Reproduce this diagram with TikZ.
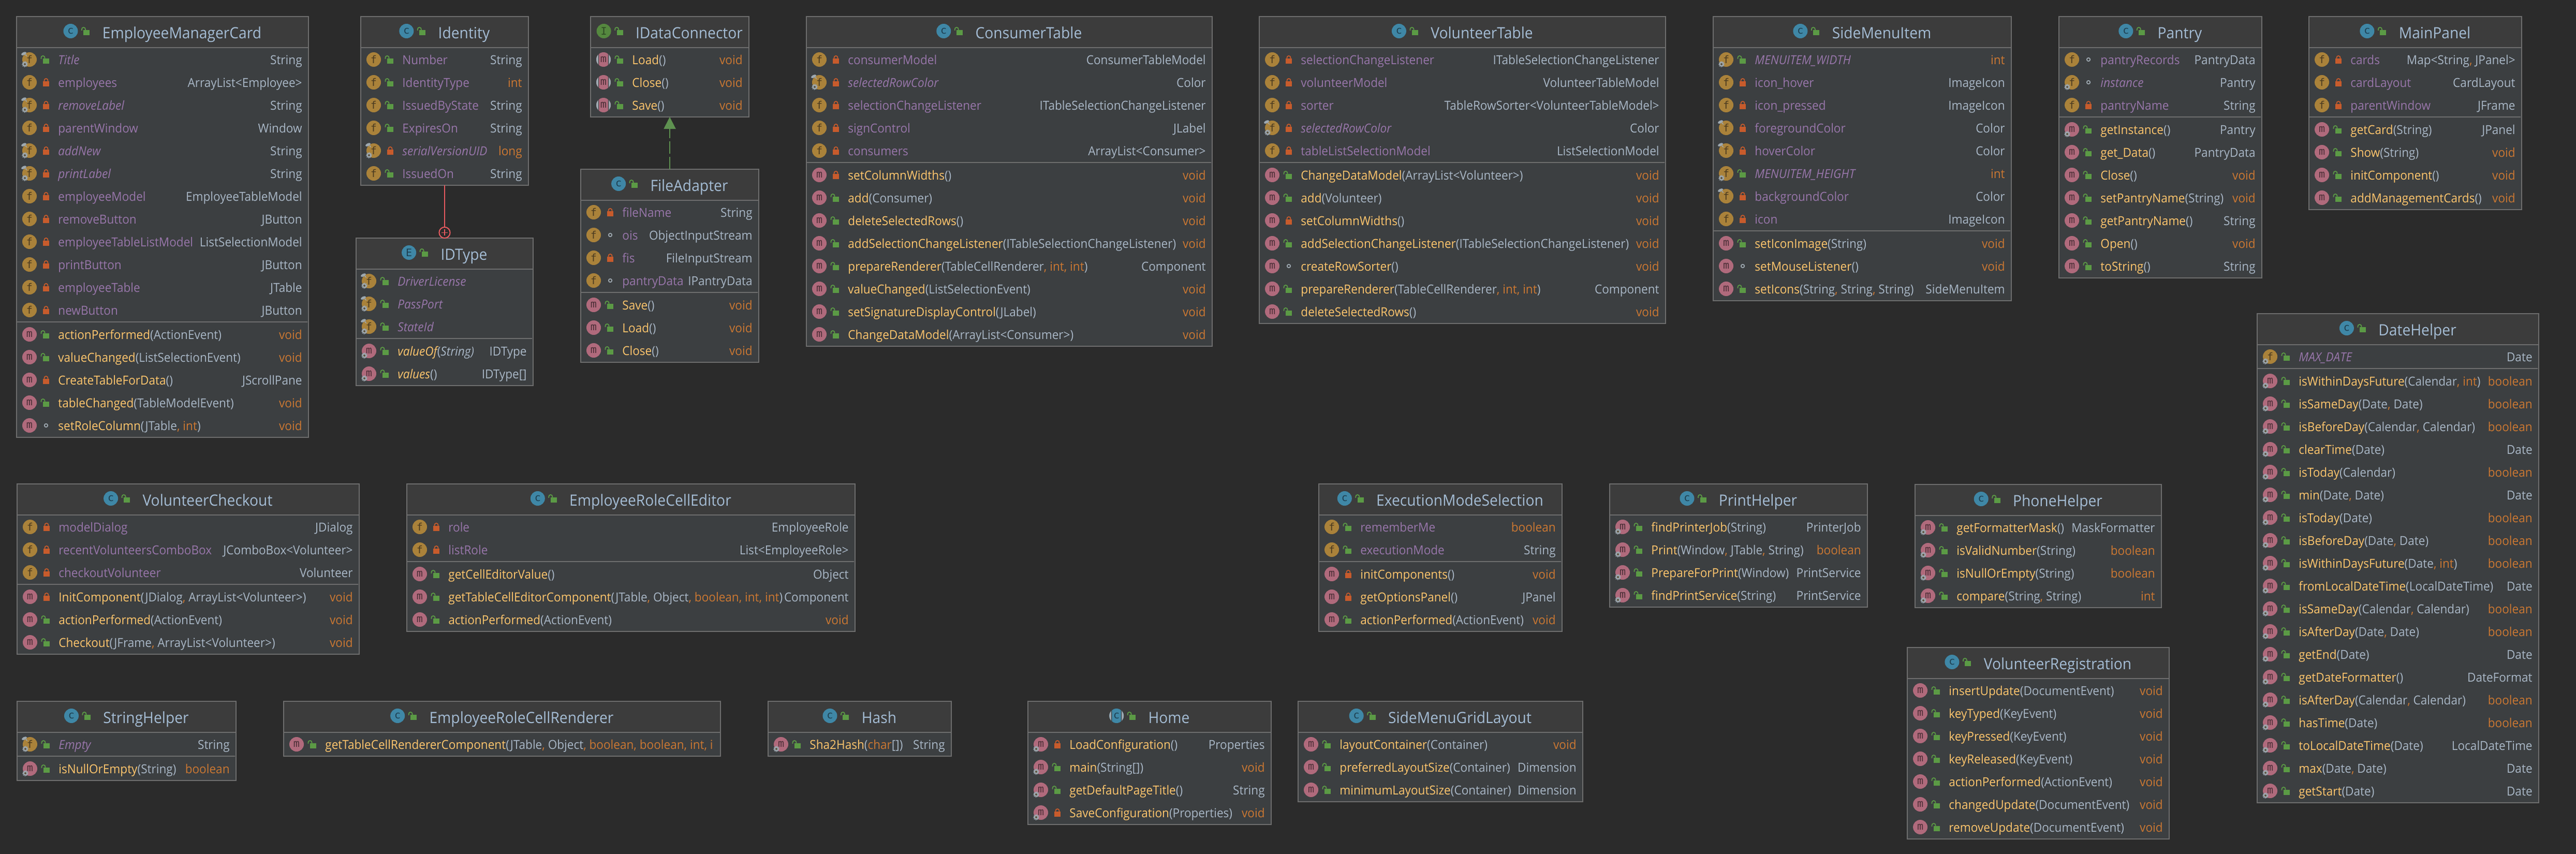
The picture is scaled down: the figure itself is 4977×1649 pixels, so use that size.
\documentclass[tikz,border=0pt]{standalone}
\usepackage{fontspec}
\usepackage{tikz}
\usetikzlibrary{arrows.meta,positioning}
\setmainfont{Open Sans}[FakeStretch=0.94]
\newfontfamily\iconfont{DejaVu Sans Mono}

\definecolor{canvasbg}{HTML}{2B2B2B}
\definecolor{headbg}{HTML}{3C3C3C}
\definecolor{rowbg}{HTML}{3C3F41}
\definecolor{rulegrey}{HTML}{6E6E6E}
\definecolor{fieldpurple}{HTML}{9876AA}
\definecolor{methodyellow}{HTML}{FFC66D}
\definecolor{typeblue}{HTML}{A9B7C6}
\definecolor{titleblue}{HTML}{A4BCD4}
\definecolor{keyorange}{HTML}{CC7832}
\definecolor{pubgreen}{HTML}{5B9A45}
\definecolor{prired}{HTML}{C75B2C}
\definecolor{markgrey}{HTML}{9DA8B0}
\definecolor{innerred}{HTML}{E85A5F}
\definecolor{implgreen}{HTML}{5E9150}
\definecolor{iconf}{HTML}{AA823A}
\definecolor{iconfink}{HTML}{4A3A20}
\definecolor{iconm}{HTML}{B06A7C}
\definecolor{iconmink}{HTML}{4A2E36}
\definecolor{iconc}{HTML}{3F87A6}
\definecolor{iconcink}{HTML}{1E3F50}
\definecolor{iconi}{HTML}{55883F}
\definecolor{iconiink}{HTML}{2E4A24}

\tikzset{
  iconnode/.style={circle, inner sep=0pt, outer sep=0pt, minimum size=14pt, font=\iconfont\fontsize{10}{12}\selectfont},
  kindf/.style={fill=iconf, text=iconfink},
  kindm/.style={fill=iconm, text=iconmink},
  kindc/.style={fill=iconc, text=iconcink},
  kindE/.style={kindc},
  kindI/.style={fill=iconi, text=iconiink},
  classnode/.style={draw=rulegrey, line width=1pt, fill=rowbg, inner sep=0pt, outer sep=0pt},
  titletext/.style={inner sep=0pt, text=titleblue, anchor=base, font=\fontsize{15}{18}\selectfont},
  nametext/.style={inner sep=0pt, fill=rowbg, text=typeblue, anchor=base west, font=\fontsize{12}{14}\selectfont},
  typetext/.style={inner sep=0pt, text=typeblue, anchor=base east, font=\fontsize{12}{14}\selectfont},
  plusmark/.style={circle, draw=innerred, line width=1pt, inner sep=0pt, minimum size=10.6pt, outer sep=0pt,
    path picture={\draw[innerred, line width=0.8pt] (-3pt,0pt) -- (3pt,0pt) (0pt,-3pt) -- (0pt,3pt);}},
  innerline/.style={draw=innerred, line width=1pt},
  implline/.style={draw=implgreen, line width=1pt, dash pattern=on 12pt off 3pt, -{Triangle[length=11.5pt,width=11.5pt,fill=implgreen]}},
  lockpri/.pic={
    \fill[prired] (-3pt,-4pt) rectangle (3pt,0.8pt);
    \draw[prired, line width=0.9pt] (-1.75pt,0.8pt) -- (-1.75pt,1.8pt) arc (180:0:1.75pt) -- (1.75pt,0.8pt);
  },
  lockpub/.pic={
    \fill[pubgreen] (-3pt,-4pt) rectangle (3pt,0.8pt);
    \draw[pubgreen, line width=0.9pt] (-4.75pt,0.6pt) -- (-4.75pt,1.8pt) arc (180:0:1.75pt) -- (-1.25pt,0.8pt);
  },
  lockpkg/.pic={
    \draw[markgrey, line width=0.9pt] (0pt,0pt) circle (1.6pt);
  },
  decn/.pic={},
  decg/.pic={
    \fill[markgrey] (-4.5pt,-4.5pt) circle (2.3pt);
    \draw[markgrey, line width=0.7pt, dash pattern=on 0.8pt off 0.8pt] (-4.5pt,-4.5pt) circle (2.6pt);
    \fill[rowbg!70!iconf] (-4.5pt,-4.5pt) circle (1pt);
  },
  decp/.pic={
    \fill[markgrey, rotate around={25:(-5.5pt,5.7pt)}] (-5.5pt,5.7pt) ellipse (2.7pt and 1.4pt);
    \fill[markgrey] (-4.3pt,4.4pt) -- (-2.4pt,2.8pt) -- (-3.2pt,5pt) -- cycle;
  },
  decb/.pic={
    \pic {decg}; \pic {decp};
  },
  deca/.pic={
    \begin{scope}
      \clip (-7pt,-7pt) rectangle (-5pt,7pt) (5pt,-7pt) rectangle (7pt,7pt);
      \fill[markgrey] (0pt,0pt) circle (7pt);
    \end{scope}
    \fill[rowbg] (-5pt,-7pt) rectangle (-4.4pt,7pt) (4.4pt,-7pt) rectangle (5pt,7pt);
  },
}

% Running position of the rows inside a class box
\newcount\curL
\newcount\curR
\newcount\rowY
\newcount\rowno
\newcommand{\kw}[1]{\textcolor{keyorange}{#1}}
\newcommand{\vd}{\kw{void}}
\newcommand{\cma}{\kw{,}\space}

% Box with header, left open for the rows: [mark]{name}{left}{top}{right}{bottom}{kind}{title}
\newcommand{\classbox}[8][n]{%
  \gdef\boxid{#2}\global\curL=#3\relax\global\curR=#5\relax\global\rowY=\numexpr#4+83\relax\global\rowno=1\relax
  \node[classnode, anchor=north west, minimum width={(#5-#3)*0.5pt}, minimum height={(#6-#4)*0.5pt}] (#2) at (#3,#4) {};
  \fill[headbg] (#3+1,#4+1) rectangle (#5-1,#4+60);
  \draw[rulegrey, line width=1pt] (#3,#4+60) -- (#5,#4+60);
  \node[titletext] (#2-title) at ({(#3+#5)/2+37.5},#4+42) {#8};
  \node[iconnode, kind#7] (#2-icon) at ([xshift=-30.5pt,yshift=7pt]#2-title.base west) {#7};
  \pic at (#2-icon.center) {dec#1};
  \pic at ([xshift=15.5pt]#2-icon.center) {lockpub};
  \begin{scope}
  \clip (#3,#4) rectangle (#5-2,#6);
}
\newcommand{\classend}{\end{scope}}
\newcommand{\classsep}{%
  \draw[rulegrey, line width=1pt] (\the\curL,\the\rowY-21) -- (\the\curR,\the\rowY-21);
  \global\advance\rowY by 3\relax
}
\newcommand{\rowcore}[5]{%
  \node[iconnode, kind#2] (\boxid-i\the\rowno) at (\the\curL+25,\the\rowY) {#2};
  \pic at (\boxid-i\the\rowno.center) {dec#1};
  \pic at (\the\curL+57,\the\rowY) {lock#3};
  \node[typetext] (\boxid-t\the\rowno) at (\the\curR-12,\the\rowY+9) {#5};
  \node[nametext] (\boxid-n\the\rowno) at (\the\curL+80,\the\rowY+9) {#4};
  \global\advance\rowY by 44\relax
  \global\advance\rowno by 1\relax
}
% [mark]{access}{name}{type}
\newcommand{\frow}[4][n]{\rowcore{#1}{f}{#2}{\textcolor{fieldpurple}{#3}}{#4}}
% [mark]{access}{name}{params}{type}
\newcommand{\mrow}[5][n]{\rowcore{#1}{m}{#2}{\textcolor{methodyellow}{#3}(#4)}{#5}}

\begin{document}
\begin{tikzpicture}[x=0.5pt,y=-0.5pt]
\useasboundingbox (0,0) rectangle (4977,1649);
\fill[canvasbg] (-20,-20) rectangle (4997,1669);

% Employee manager card
\classbox{employeeCard}{32}{32}{596}{845}{c}{EmployeeManagerCard}
\frow[b]{pub}{\itshape Title}{String}
\frow{pri}{employees}{ArrayList<Employee>}
\frow[b]{pri}{\itshape removeLabel}{String}
\frow{pri}{parentWindow}{Window}
\frow[b]{pri}{\itshape addNew}{String}
\frow[b]{pri}{\itshape printLabel}{String}
\frow{pri}{employeeModel}{EmployeeTableModel}
\frow{pri}{removeButton}{JButton}
\frow{pri}{employeeTableListModel}{ListSelectionModel}
\frow{pri}{printButton}{JButton}
\frow{pri}{employeeTable}{JTable}
\frow{pri}{newButton}{JButton}
\classsep
\mrow{pub}{actionPerformed}{ActionEvent}{\vd}
\mrow{pub}{valueChanged}{ListSelectionEvent}{\vd}
\mrow{pri}{CreateTableForData}{}{JScrollPane}
\mrow{pub}{tableChanged}{TableModelEvent}{\vd}
\mrow{pkg}{setRoleColumn}{JTable\cma\kw{int}}{\vd}
\classend

% Identity and its nested enum
\classbox{identity}{697}{32}{1021}{358}{c}{Identity}
\frow{pub}{Number}{String}
\frow{pub}{IdentityType}{\kw{int}}
\frow{pub}{IssuedByState}{String}
\frow{pub}{ExpiresOn}{String}
\frow[b]{pri}{\itshape serialVersionUID}{\kw{long}}
\frow{pub}{IssuedOn}{String}
\classend

\classbox{idType}{688}{460}{1030}{745}{E}{IDType}
\frow[b]{pub}{\itshape DriverLicense}{}
\frow[b]{pub}{\itshape PassPort}{}
\frow[b]{pub}{\itshape StateId}{}
\classsep
\mrow[g]{pub}{\itshape valueOf}{\itshape String}{IDType}
\mrow[g]{pub}{\itshape values}{}{IDType[]}
\classend

% Data connector and adapter
\classbox{dataConnector}{1141}{32}{1447}{226}{I}{IDataConnector}
\mrow[a]{pub}{Load}{}{\vd}
\mrow[a]{pub}{Close}{}{\vd}
\mrow[a]{pub}{Save}{}{\vd}
\classend

\classbox{fileAdapter}{1122}{327}{1466}{700}{c}{FileAdapter}
\frow{pri}{fileName}{String}
\frow{pkg}{ois}{ObjectInputStream}
\frow{pri}{fis}{FileInputStream}
\frow{pkg}{pantryData}{IPantryData}
\classsep
\mrow{pub}{Save}{}{\vd}
\mrow{pub}{Load}{}{\vd}
\mrow{pub}{Close}{}{\vd}
\classend

% Consumer table
\classbox{consumerTable}{1558}{32}{2342}{669}{c}{ConsumerTable}
\frow{pri}{consumerModel}{ConsumerTableModel}
\frow[b]{pri}{\itshape selectedRowColor}{Color}
\frow{pri}{selectionChangeListener}{ITableSelectionChangeListener}
\frow{pri}{signControl}{JLabel}
\frow{pri}{consumers}{ArrayList<Consumer>}
\classsep
\mrow{pri}{setColumnWidths}{}{\vd}
\mrow{pub}{add}{Consumer}{\vd}
\mrow{pub}{deleteSelectedRows}{}{\vd}
\mrow{pub}{addSelectionChangeListener}{ITableSelectionChangeListener}{\vd}
\mrow{pub}{prepareRenderer}{TableCellRenderer\cma\kw{int}\cma\kw{int}}{Component}
\mrow{pub}{valueChanged}{ListSelectionEvent}{\vd}
\mrow{pub}{setSignatureDisplayControl}{JLabel}{\vd}
\mrow{pub}{ChangeDataModel}{ArrayList<Consumer>}{\vd}
\classend

% Volunteer table
\classbox{volunteerTable}{2433}{32}{3218}{625}{c}{VolunteerTable}
\frow{pri}{selectionChangeListener}{ITableSelectionChangeListener}
\frow{pri}{volunteerModel}{VolunteerTableModel}
\frow{pri}{sorter}{TableRowSorter<VolunteerTableModel>}
\frow[b]{pri}{\itshape selectedRowColor}{Color}
\frow{pri}{tableListSelectionModel}{ListSelectionModel}
\classsep
\mrow{pub}{ChangeDataModel}{ArrayList<Volunteer>}{\vd}
\mrow{pub}{add}{Volunteer}{\vd}
\mrow{pri}{setColumnWidths}{}{\vd}
\mrow{pub}{addSelectionChangeListener}{ITableSelectionChangeListener}{\vd}
\mrow{pkg}{createRowSorter}{}{\vd}
\mrow{pub}{prepareRenderer}{TableCellRenderer\cma\kw{int}\cma\kw{int}}{Component}
\mrow{pub}{deleteSelectedRows}{}{\vd}
\classend

% Side menu item
\classbox{sideMenuItem}{3310}{32}{3886}{581}{c}{SideMenuItem}
\frow[g]{pub}{\itshape MENUITEM\_WIDTH}{\kw{int}}
\frow{pri}{icon\_hover}{ImageIcon}
\frow{pri}{icon\_pressed}{ImageIcon}
\frow[p]{pri}{foregroundColor}{Color}
\frow[p]{pri}{hoverColor}{Color}
\frow[g]{pub}{\itshape MENUITEM\_HEIGHT}{\kw{int}}
\frow[p]{pri}{backgroundColor}{Color}
\frow{pri}{icon}{ImageIcon}
\classsep
\mrow{pub}{setIconImage}{String}{\vd}
\mrow{pkg}{setMouseListener}{}{\vd}
\mrow{pub}{setIcons}{String\cma String\cma String}{SideMenuItem}
\classend

% Pantry
\classbox{pantry}{3978}{32}{4370}{537}{c}{Pantry}
\frow{pkg}{pantryRecords}{PantryData}
\frow[g]{pkg}{\itshape instance}{Pantry}
\frow{pri}{pantryName}{String}
\classsep
\mrow[g]{pub}{getInstance}{}{Pantry}
\mrow{pub}{get\_Data}{}{PantryData}
\mrow{pub}{Close}{}{\vd}
\mrow{pub}{setPantryName}{String}{\vd}
\mrow{pub}{getPantryName}{}{String}
\mrow{pub}{Open}{}{\vd}
\mrow{pub}{toString}{}{String}
\classend

% Main panel
\classbox{mainPanel}{4461}{32}{4872}{405}{c}{MainPanel}
\frow{pri}{cards}{Map<String\cma JPanel>}
\frow{pri}{cardLayout}{CardLayout}
\frow{pri}{parentWindow}{JFrame}
\classsep
\mrow{pub}{getCard}{String}{JPanel}
\mrow{pub}{Show}{String}{\vd}
\mrow{pub}{initComponent}{}{\vd}
\mrow{pub}{addManagementCards}{}{\vd}
\classend

% Date helper
\classbox{dateHelper}{4361}{606}{4905}{1551}{c}{DateHelper}
\frow[g]{pub}{\itshape MAX\_DATE}{Date}
\classsep
\mrow[g]{pub}{isWithinDaysFuture}{Calendar\cma\kw{int}}{\kw{boolean}}
\mrow[g]{pub}{isSameDay}{Date\cma Date}{\kw{boolean}}
\mrow[g]{pub}{isBeforeDay}{Calendar\cma Calendar}{\kw{boolean}}
\mrow[g]{pub}{clearTime}{Date}{Date}
\mrow[g]{pub}{isToday}{Calendar}{\kw{boolean}}
\mrow[g]{pub}{min}{Date\cma Date}{Date}
\mrow[g]{pub}{isToday}{Date}{\kw{boolean}}
\mrow[g]{pub}{isBeforeDay}{Date\cma Date}{\kw{boolean}}
\mrow[g]{pub}{isWithinDaysFuture}{Date\cma\kw{int}}{\kw{boolean}}
\mrow[g]{pub}{fromLocalDateTime}{LocalDateTime}{Date}
\mrow[g]{pub}{isSameDay}{Calendar\cma Calendar}{\kw{boolean}}
\mrow[g]{pub}{isAfterDay}{Date\cma Date}{\kw{boolean}}
\mrow[g]{pub}{getEnd}{Date}{Date}
\mrow[g]{pub}{getDateFormatter}{}{DateFormat}
\mrow[g]{pub}{isAfterDay}{Calendar\cma Calendar}{\kw{boolean}}
\mrow[g]{pub}{hasTime}{Date}{\kw{boolean}}
\mrow[g]{pub}{toLocalDateTime}{Date}{LocalDateTime}
\mrow[g]{pub}{max}{Date\cma Date}{Date}
\mrow[g]{pub}{getStart}{Date}{Date}
\classend

% Middle row
\classbox{volunteerCheckout}{33}{935}{694}{1264}{c}{VolunteerCheckout}
\frow{pri}{modelDialog}{JDialog}
\frow{pri}{recentVolunteersComboBox}{JComboBox<Volunteer>}
\frow{pri}{checkoutVolunteer}{Volunteer}
\classsep
\mrow{pri}{InitComponent}{JDialog\cma ArrayList<Volunteer>}{\vd}
\mrow{pub}{actionPerformed}{ActionEvent}{\vd}
\mrow{pub}{Checkout}{JFrame\cma ArrayList<Volunteer>}{\vd}
\classend

\classbox{roleEditor}{786}{935}{1652}{1220}{c}{EmployeeRoleCellEditor}
\frow{pri}{role}{EmployeeRole}
\frow{pri}{listRole}{List<EmployeeRole>}
\classsep
\mrow{pub}{getCellEditorValue}{}{Object}
\mrow{pub}{getTableCellEditorComponent}{JTable\cma Object\cma\kw{boolean}\cma\kw{int}\cma\kw{int}}{Component}
\mrow{pub}{actionPerformed}{ActionEvent}{\vd}
\classend

\classbox{modeSelection}{2548}{935}{3018}{1220}{c}{ExecutionModeSelection}
\frow{pub}{rememberMe}{\kw{boolean}}
\frow{pub}{executionMode}{String}
\classsep
\mrow{pri}{initComponents}{}{\vd}
\mrow{pri}{getOptionsPanel}{}{JPanel}
\mrow{pub}{actionPerformed}{ActionEvent}{\vd}
\classend

\classbox{printHelper}{3110}{935}{3608}{1173}{c}{PrintHelper}
\mrow[g]{pub}{findPrinterJob}{String}{PrinterJob}
\mrow[g]{pub}{Print}{Window\cma JTable\cma String}{\kw{boolean}}
\mrow[g]{pub}{PrepareForPrint}{Window}{PrintService}
\mrow[g]{pub}{findPrintService}{String}{PrintService}
\classend

\classbox{phoneHelper}{3700}{936}{4176}{1174}{c}{PhoneHelper}
\mrow[g]{pub}{getFormatterMask}{}{MaskFormatter}
\mrow[g]{pub}{isValidNumber}{String}{\kw{boolean}}
\mrow[g]{pub}{isNullOrEmpty}{String}{\kw{boolean}}
\mrow[g]{pub}{compare}{String\cma String}{\kw{int}}
\classend

% Volunteer registration
\classbox{volunteerRegistration}{3685}{1251}{4191}{1621}{c}{VolunteerRegistration}
\mrow{pub}{insertUpdate}{DocumentEvent}{\vd}
\mrow{pub}{keyTyped}{KeyEvent}{\vd}
\mrow{pub}{keyPressed}{KeyEvent}{\vd}
\mrow{pub}{keyReleased}{KeyEvent}{\vd}
\mrow{pub}{actionPerformed}{ActionEvent}{\vd}
\mrow{pub}{changedUpdate}{DocumentEvent}{\vd}
\mrow{pub}{removeUpdate}{DocumentEvent}{\vd}
\classend

% Bottom row
\classbox{stringHelper}{33}{1355}{456}{1508}{c}{StringHelper}
\frow[b]{pub}{\itshape Empty}{String}
\classsep
\mrow[g]{pub}{isNullOrEmpty}{String}{\kw{boolean}}
\classend

\classbox{roleRenderer}{548}{1355}{1392}{1461}{c}{EmployeeRoleCellRenderer}
\rowcore{n}{m}{pub}{\textcolor{methodyellow}{getTableCellRendererComponent}(JTable\cma Object\cma\kw{boolean}\cma\kw{boolean}\cma\kw{int}\cma\kw{i}}{}
\classend

\classbox{hash}{1484}{1355}{1838}{1461}{c}{Hash}
\mrow[g]{pub}{Sha2Hash}{\kw{char}[]}{String}
\classend

\classbox[a]{home}{1986}{1355}{2456}{1593}{c}{Home}
\mrow[g]{pri}{LoadConfiguration}{}{Properties}
\mrow[g]{pub}{main}{String[]}{\vd}
\mrow[g]{pub}{getDefaultPageTitle}{}{String}
\mrow[g]{pri}{SaveConfiguration}{Properties}{\vd}
\classend

\classbox{gridLayout}{2508}{1355}{3058}{1549}{c}{SideMenuGridLayout}
\mrow{pub}{layoutContainer}{Container}{\vd}
\mrow{pub}{preferredLayoutSize}{Container}{Dimension}
\mrow{pub}{minimumLayoutSize}{Container}{Dimension}
\classend

% Connectors
\node[plusmark, above=0pt of idType.north] (nestMark) {};
\draw[innerline] (identity.south) -- (nestMark.north);
\draw[implline] (fileAdapter.north) -- (dataConnector.south);

\end{tikzpicture}
\end{document}
